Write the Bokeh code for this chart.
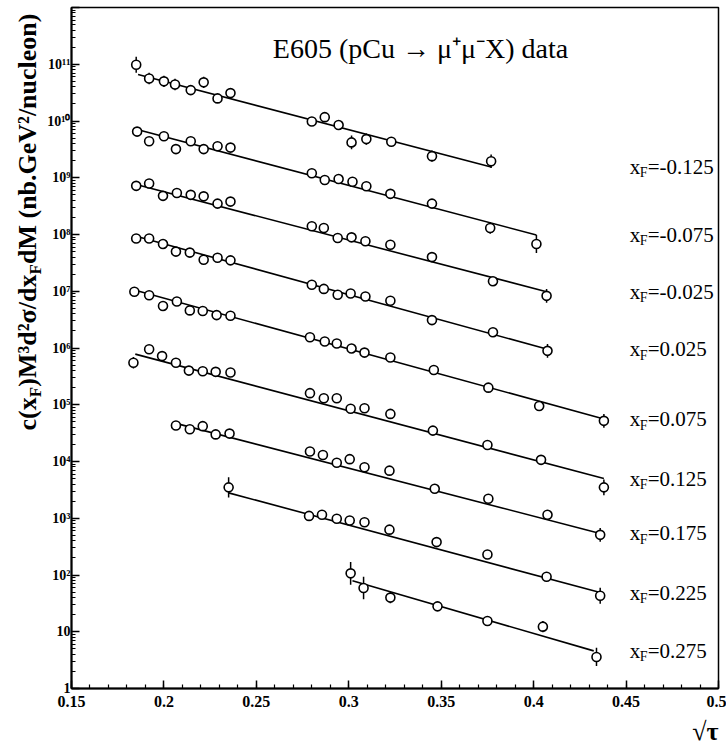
import math

from bokeh.core.properties import value
from bokeh.embed import file_html
from bokeh.layouts import row
from bokeh.models import (ColumnDataSource, CustomJSTickFormatter, FixedTicker,
                          Label, Range1d, SingleIntervalTicker, Title)
from bokeh.plotting import figure
from bokeh.resources import INLINE

# E605 pCu -> mu+ mu- X : scaled cross section versus sqrt(tau), one row per x_F bin
XF_LABELS = ["-0.125", "-0.075", "-0.025", "0.025", "0.075",
             "0.125", "0.175", "0.225", "0.275"]

X1 = [0.185, 0.192, 0.200, 0.206, 0.2145, 0.2215, 0.229, 0.236, 0.280, 0.287,
      0.2945, 0.3015, 0.3095, 0.323, 0.345, 0.377]
Y1 = [9.8e10, 5.6e10, 5.0e10, 4.4e10, 3.5e10, 4.8e10, 2.5e10, 3.1e10, 9.8e9, 1.17e10,
      8.5e9, 4.2e9, 4.8e9, 4.3e9, 2.4e9, 1.95e9]
E1 = [0.14, 0.10, 0.10, 0.10, 0.05, 0.10, 0.05, 0.05, 0.05, 0.05,
      0.05, 0.12, 0.10, 0.05, 0.10, 0.12]
FIT1_X = [0.186, 0.377]
FIT1_Y = [6.6e10, 1.55e9]

X2 = [0.1855, 0.192, 0.200, 0.2065, 0.2145, 0.2215, 0.229, 0.236, 0.280, 0.287,
      0.2945, 0.302, 0.3095, 0.3225, 0.345, 0.3765, 0.4015]
Y2 = [6.5e9, 4.4e9, 5.4e9, 3.2e9, 4.4e9, 3.2e9, 3.6e9, 3.4e9, 1.2e9, 9.1e8,
      9.5e8, 8.5e8, 7.1e8, 5.2e8, 3.5e8, 1.3e8, 6.8e7]
E2 = [0.05, 0.05, 0.05, 0.05, 0.05, 0.05, 0.05, 0.05, 0.05, 0.05,
      0.05, 0.05, 0.05, 0.05, 0.05, 0.10, 0.16]
FIT2_X = [0.1855, 0.4015]
FIT2_Y = [7.1e9, 9.8e7]

X3 = [0.185, 0.192, 0.1995, 0.207, 0.2145, 0.2215, 0.229, 0.236, 0.280, 0.2865,
      0.294, 0.3015, 0.309, 0.3225, 0.345, 0.378, 0.407]
Y3 = [7.2e8, 7.9e8, 4.8e8, 5.4e8, 5.0e8, 4.7e8, 3.5e8, 3.8e8, 1.4e8, 1.3e8,
      8.7e7, 8.9e7, 7.6e7, 6.6e7, 4.0e7, 1.5e7, 8.3e6]
E3 = [0.05, 0.05, 0.05, 0.05, 0.05, 0.05, 0.05, 0.05, 0.05, 0.05,
      0.05, 0.05, 0.05, 0.05, 0.05, 0.05, 0.12]
FIT3_X = [0.185, 0.407]
FIT3_Y = [7.6e8, 9.8e6]

X4 = [0.185, 0.192, 0.1995, 0.2065, 0.214, 0.2215, 0.229, 0.236, 0.280, 0.2865,
      0.294, 0.301, 0.309, 0.3225, 0.345, 0.378, 0.4075]
Y4 = [8.5e7, 8.5e7, 6.8e7, 5.0e7, 4.8e7, 3.6e7, 3.9e7, 3.5e7, 1.3e7, 1.1e7,
      8.7e6, 9.1e6, 8.1e6, 6.8e6, 3.1e6, 1.9e6, 8.9e5]
E4 = [0.05, 0.05, 0.05, 0.05, 0.05, 0.05, 0.05, 0.05, 0.05, 0.05,
      0.05, 0.05, 0.05, 0.05, 0.06, 0.05, 0.12]
FIT4_X = [0.185, 0.4075]
FIT4_Y = [9.3e7, 9.5e5]

X5 = [0.184, 0.192, 0.1995, 0.207, 0.214, 0.221, 0.2285, 0.236, 0.279, 0.287,
      0.2935, 0.3015, 0.3085, 0.3225, 0.346, 0.3755, 0.403, 0.438]
Y5 = [9.8e6, 8.5e6, 5.5e6, 6.6e6, 4.6e6, 4.5e6, 3.8e6, 3.7e6, 1.55e6, 1.3e6,
      1.2e6, 9.8e5, 8.3e5, 6.8e5, 4.1e5, 2.0e5, 9.5e4, 5.2e4]
E5 = [0.05, 0.05, 0.05, 0.05, 0.05, 0.05, 0.05, 0.05, 0.05, 0.05,
      0.05, 0.05, 0.05, 0.05, 0.05, 0.05, 0.08, 0.12]
FIT5_X = [0.184, 0.438]
FIT5_Y = [1.05e7, 5.6e4]

X6 = [0.1835, 0.192, 0.199, 0.2065, 0.2135, 0.221, 0.228, 0.236, 0.279, 0.2865,
      0.2935, 0.301, 0.3085, 0.3225, 0.3455, 0.375, 0.404, 0.438]
Y6 = [5.5e5, 9.5e5, 7.2e5, 5.5e5, 4.0e5, 3.9e5, 3.8e5, 3.7e5, 1.6e5, 1.3e5,
      1.3e5, 8.5e4, 8.7e4, 6.9e4, 3.5e4, 1.95e4, 1.07e4, 3.5e3]
E6 = [0.10, 0.05, 0.05, 0.05, 0.05, 0.05, 0.05, 0.05, 0.05, 0.05,
      0.05, 0.05, 0.05, 0.05, 0.05, 0.05, 0.05, 0.14]
FIT6_X = [0.1845, 0.438]
FIT6_Y = [7.8e5, 5.0e3]

X7 = [0.2065, 0.214, 0.221, 0.228, 0.2355, 0.279, 0.286, 0.2935, 0.3005, 0.3085,
      0.322, 0.3465, 0.3755, 0.4075, 0.436]
Y7 = [4.3e4, 3.7e4, 4.2e4, 3.0e4, 3.1e4, 1.5e4, 1.3e4, 9.5e3, 1.1e4, 7.9e3,
      6.9e3, 3.3e3, 2.2e3, 1.15e3, 5.1e2]
E7 = [0.05, 0.05, 0.05, 0.05, 0.05, 0.05, 0.05, 0.05, 0.05, 0.05,
      0.05, 0.05, 0.05, 0.05, 0.12]
FIT7_X = [0.2065, 0.436]
FIT7_Y = [4.7e4, 5.4e2]

X8 = [0.235, 0.2785, 0.2855, 0.2935, 0.3005, 0.3085, 0.322, 0.3475, 0.375, 0.407, 0.436]
Y8 = [3.5e3, 1.1e3, 1.15e3, 9.8e2, 9.1e2, 8.5e2, 6.3e2, 3.8e2, 2.3e2, 93, 43]
E8 = [0.18, 0.05, 0.05, 0.05, 0.05, 0.05, 0.05, 0.05, 0.05, 0.08, 0.14]
FIT8_X = [0.235, 0.436]
FIT8_Y = [2.8e3, 49]

X9 = [0.301, 0.308, 0.3225, 0.348, 0.375, 0.405, 0.434]
Y9 = [107, 59, 40, 28, 15.5, 12.3, 3.6]
E9 = [0.20, 0.20, 0.10, 0.08, 0.08, 0.10, 0.16]
FIT9_X = [0.302, 0.4325]
FIT9_Y = [79, 4.6]

SERIES = [
    (X1, Y1, E1, FIT1_X, FIT1_Y),
    (X2, Y2, E2, FIT2_X, FIT2_Y),
    (X3, Y3, E3, FIT3_X, FIT3_Y),
    (X4, Y4, E4, FIT4_X, FIT4_Y),
    (X5, Y5, E5, FIT5_X, FIT5_Y),
    (X6, Y6, E6, FIT6_X, FIT6_Y),
    (X7, Y7, E7, FIT7_X, FIT7_Y),
    (X8, Y8, E8, FIT8_X, FIT8_Y),
    (X9, Y9, E9, FIT9_X, FIT9_Y),
]

X_TICK_STEP = 0.05
DECADES = list(range(0, 13))
LABEL_X = 0.452          # left edge of the x_F annotations, in sqrt(tau)

SERIF = "Liberation Serif"
INK = "black"
HEIGHT = 751
STRIP_W = 44             # narrow strip holding the vertical axis title
MAIN_W = 726 - STRIP_W

p = figure(width=MAIN_W, height=HEIGHT, y_axis_type="log",
           x_range=Range1d(0.15, 0.5), y_range=Range1d(1, 1e12),
           output_backend="svg", toolbar_location=None,
           min_border_left=67 - STRIP_W, min_border_right=8,
           min_border_top=7, min_border_bottom=63)
p.background_fill_color = "white"
p.border_fill_color = "white"
p.xgrid.visible = False
p.ygrid.visible = False
p.outline_line_color = INK
p.outline_line_width = 1.5

# x axis: 0.05 major steps with 0.01 minor ticks, ticks pointing inward
p.xaxis.ticker = SingleIntervalTicker(interval=X_TICK_STEP, num_minor_ticks=5)
p.xaxis.formatter = CustomJSTickFormatter(
    code="return String(parseFloat(tick.toFixed(2)));")
p.xaxis.major_label_standoff = 7

# y axis: one labelled tick per decade, 2..9 minor ticks
major = [10.0 ** k for k in DECADES]
minor = [m * 10.0 ** k for k in DECADES[:-1] for m in range(2, 10)]
p.yaxis.ticker = FixedTicker(ticks=major, minor_ticks=minor)
p.yaxis.formatter = CustomJSTickFormatter(code="""
const sup = {"0":"⁰","1":"¹","2":"²","3":"³","4":"⁴","5":"⁵","6":"⁶","7":"⁷","8":"⁸","9":"⁹"};
const e = Math.round(Math.log10(tick));
if (e >= 12) return "";
if (e === 0) return "1";
if (e === 1) return "10";
return "10" + String(e).split("").map(c => sup[c]).join("");
""")
p.yaxis.major_label_standoff = 1

for ax in (p.xaxis, p.yaxis):
    ax.axis_line_color = INK
    ax.axis_line_width = 2
    ax.major_tick_line_color = INK
    ax.minor_tick_line_color = INK
    ax.major_tick_line_width = 1.5
    ax.minor_tick_line_width = 1.2
    ax.major_tick_in = 8
    ax.major_tick_out = 0
    ax.minor_tick_in = 4
    ax.minor_tick_out = 0
    ax.major_label_text_font = SERIF
    ax.major_label_text_font_style = "bold"
    ax.major_label_text_color = INK
p.xaxis.major_label_text_font_size = "16px"
p.yaxis.major_label_text_font_size = "14px"

# fits, error bars and measured points
for xs, ys, errs, fx, fy in SERIES:
    p.line(fx, fy, line_color=INK, line_width=1.6)
    lo = [y / 10 ** e for y, e in zip(ys, errs)]
    hi = [y * 10 ** e for y, e in zip(ys, errs)]
    p.segment(x0=xs, y0=lo, x1=xs, y1=hi, line_color=INK, line_width=1.5)
    p.scatter(xs, ys, marker="circle", size=9, fill_color="white",
              line_color=INK, line_width=1.6)

# x_F annotations, each level with the end of its fit line
lab = ColumnDataSource(dict(
    x=[LABEL_X] * len(SERIES),
    y=[s[4][-1] for s in SERIES],
    x_txt=["x"] * len(SERIES),
    f_txt=["F"] * len(SERIES),
    v_txt=["=" + t for t in XF_LABELS],
))
p.text("x", "y", text="x_txt", source=lab, text_font=value(SERIF),
       text_font_size="21px", text_baseline="middle", text_color=INK)
p.text("x", "y", text="f_txt", source=lab, text_font=value(SERIF),
       text_font_size="14px", text_baseline="middle", text_color=INK,
       x_offset=10, y_offset=6)
p.text("x", "y", text="v_txt", source=lab, text_font=value(SERIF),
       text_font_size="21px", text_baseline="middle", text_color=INK,
       x_offset=18)

# title inside the frame
p.add_layout(Label(x=420 - STRIP_W, y=48, x_units="canvas", y_units="canvas",
                   text="E605 (pCu → μ⁺μ⁻X) data", text_font=SERIF,
                   text_font_size="28px", text_align="center",
                   text_baseline="alphabetic", text_color=INK))

# x axis title, at the right end under the tick labels
p.add_layout(Title(text="√τ", align="right", text_font=SERIF,
                   text_font_size="26px", text_font_style="bold",
                   text_color=INK, standoff=11, offset=0), "below")

# vertical axis title in its own strip, set piece by piece so the F subscripts sit low
strip = figure(width=STRIP_W, height=HEIGHT, x_range=Range1d(0, STRIP_W),
               y_range=Range1d(HEIGHT, 0), output_backend="svg",
               toolbar_location=None, x_axis_location=None,
               y_axis_location=None, min_border=0)
strip.outline_line_color = None
strip.xgrid.visible = False
strip.ygrid.visible = False
strip.background_fill_color = "white"
strip.border_fill_color = "white"

TIMES_BOLD = {'c': .444, '(': .333, 'x': .5, ')': .333, 'M': .944, '³': .3,
              'd': .556, '²': .3, 'σ': .56, '/': .278, ' ': .25, 'n': .556,
              'b': .556, '.': .25, 'G': .778, 'e': .444, 'V': .722, 'u': .556,
              'l': .278, 'o': .5, 'F': .611}
MAIN_SIZE, SUB_SIZE = 26, 17
pieces = [("c(x", False), ("F", True), (")M³d²σ/dx", False), ("F", True),
          ("dM (nb.GeV²/nucleon)", False)]
y_pos = 430.0
mid_x = 27.0
for txt, is_sub in pieces:
    size = SUB_SIZE if is_sub else MAIN_SIZE
    w = sum(TIMES_BOLD.get(ch, 0.5) for ch in txt) * size
    strip.add_layout(Label(x=mid_x + (8 if is_sub else 0), y=y_pos - w / 2,
                           x_units="canvas", y_units="canvas", text=txt,
                           angle=math.pi / 2, text_font=SERIF,
                           text_font_size=f"{size}px", text_font_style="bold",
                           text_align="center", text_baseline="middle",
                           text_color=INK))
    y_pos -= w

layout = row(strip, p, spacing=0)
open("out.html", "w").write(file_html(layout, INLINE))
